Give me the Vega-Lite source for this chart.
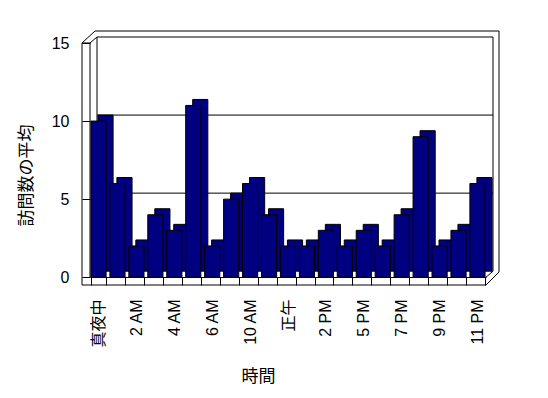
{
  "$schema": "https://vega.github.io/schema/vega-lite/v6.json",
  "width": 396,
  "height": 242,
  "autosize": {"type": "none"},
  "padding": {"left": 90, "top": 43, "right": 62, "bottom": 113},
  "background": "white",
  "config": {
    "view": {"stroke": null},
    "font": "Liberation Sans, Noto Sans CJK JP",
    "axis": {"labelColor": "black", "titleColor": "black", "tickColor": "black", "domainColor": "black", "titleFontWeight": "normal", "labelFont": "Liberation Sans, Noto Sans CJK JP", "titleFont": "Liberation Sans, Noto Sans CJK JP"}
  },
  "data": {"values": [
    {"h": "真夜中", "v": 10}, {"h": "1 AM", "v": 6}, {"h": "2 AM", "v": 2}, {"h": "3 AM", "v": 4},
    {"h": "4 AM", "v": 3}, {"h": "5 AM", "v": 11}, {"h": "6 AM", "v": 2}, {"h": "8 AM", "v": 5},
    {"h": "10 AM", "v": 6}, {"h": "11 AM", "v": 4}, {"h": "正午", "v": 2}, {"h": "1 PM", "v": 2},
    {"h": "2 PM", "v": 3}, {"h": "3 PM", "v": 2}, {"h": "5 PM", "v": 3}, {"h": "6 PM", "v": 2},
    {"h": "7 PM", "v": 4}, {"h": "8 PM", "v": 9}, {"h": "9 PM", "v": 2}, {"h": "10 PM", "v": 3},
    {"h": "11 PM", "v": 6}
  ]},
  "resolve": {"scale": {"x": "independent"}, "axis": {"x": "independent", "y": "independent"}},
  "layer": [
    {
      "data": {"values": [{}]},
      "layer": [
        {"mark": {"type": "rule", "color": "black", "xOffset": 7, "x2Offset": 7, "yOffset": -6},
         "encoding": {"x": {"datum": 0, "type": "quantitative", "scale": {"domain": [0, 1], "nice": false, "zero": false}, "axis": null},
                      "x2": {"datum": 1},
                      "y": {"datum": 5, "type": "quantitative", "scale": {"domain": [-0.5, 15], "nice": false, "zero": false}, "axis": null}}},
        {"mark": {"type": "rule", "color": "black", "xOffset": 7, "x2Offset": 7, "yOffset": -6},
         "encoding": {"x": {"datum": 0, "type": "quantitative", "scale": {"domain": [0, 1], "nice": false, "zero": false}, "axis": null},
                      "x2": {"datum": 1},
                      "y": {"datum": 10, "type": "quantitative", "scale": {"domain": [-0.5, 15], "nice": false, "zero": false}, "axis": null}}},
        {"mark": {"type": "rule", "color": "black", "xOffset": 7, "x2Offset": 7, "yOffset": -6},
         "encoding": {"x": {"datum": 0, "type": "quantitative", "scale": {"domain": [0, 1], "nice": false, "zero": false}, "axis": null},
                      "x2": {"datum": 1},
                      "y": {"datum": 15, "type": "quantitative", "scale": {"domain": [-0.5, 15], "nice": false, "zero": false}, "axis": null}}},
        {"mark": {"type": "rule", "color": "black", "xOffset": 7, "yOffset": -6, "y2Offset": -6},
         "encoding": {"x": {"datum": 0, "type": "quantitative", "scale": {"domain": [0, 1], "nice": false, "zero": false}, "axis": null},
                      "y": {"datum": 0, "type": "quantitative", "scale": {"domain": [-0.5, 15], "nice": false, "zero": false}, "axis": null},
                      "y2": {"datum": 15}}},
        {"mark": {"type": "rule", "color": "black", "xOffset": 7, "yOffset": -6, "y2Offset": -6},
         "encoding": {"x": {"datum": 1, "type": "quantitative", "scale": {"domain": [0, 1], "nice": false, "zero": false}, "axis": null},
                      "y": {"datum": 0, "type": "quantitative", "scale": {"domain": [-0.5, 15], "nice": false, "zero": false}, "axis": null},
                      "y2": {"datum": 15}}},
        {"mark": {"type": "rule", "color": "black", "xOffset": 13, "yOffset": -12, "y2Offset": -13},
         "encoding": {"x": {"datum": 1, "type": "quantitative", "scale": {"domain": [0, 1], "nice": false, "zero": false}, "axis": null},
                      "y": {"datum": 15, "type": "quantitative", "scale": {"domain": [-0.5, 15], "nice": false, "zero": false}, "axis": null},
                      "y2": {"datum": -0.5}}},
        {"mark": {"type": "rule", "color": "black", "xOffset": 5, "x2Offset": 13, "yOffset": -12},
         "encoding": {"x": {"datum": 0, "type": "quantitative", "scale": {"domain": [0, 1], "nice": false, "zero": false}, "axis": null},
                      "x2": {"datum": 1},
                      "y": {"datum": 15, "type": "quantitative", "scale": {"domain": [-0.5, 15], "nice": false, "zero": false}, "axis": null}}},
        {"mark": {"type": "rule", "color": "black", "xOffset": -8},
         "encoding": {"x": {"datum": 0, "type": "quantitative", "scale": {"domain": [0, 1], "nice": false, "zero": false}, "axis": null},
                      "y": {"datum": -0.5, "type": "quantitative", "scale": {"domain": [-0.5, 15], "nice": false, "zero": false}, "axis": null},
                      "y2": {"datum": 15}}},
        {"mark": {"type": "rule", "color": "black"},
         "encoding": {"x": {"datum": 0, "type": "quantitative", "scale": {"domain": [0, 1], "nice": false, "zero": false}, "axis": null},
                      "y": {"datum": 0, "type": "quantitative", "scale": {"domain": [-0.5, 15], "nice": false, "zero": false}, "axis": null},
                      "y2": {"datum": 15}}},
        {"mark": {"type": "rule", "color": "black", "xOffset": -8},
         "encoding": {"x": {"datum": 0, "type": "quantitative", "scale": {"domain": [0, 1], "nice": false, "zero": false}, "axis": null},
                      "x2": {"datum": 0},
                      "y": {"datum": 15, "type": "quantitative", "scale": {"domain": [-0.5, 15], "nice": false, "zero": false}, "axis": null}}},
        {"mark": {"type": "rule", "color": "black", "xOffset": -8, "x2Offset": 5, "y2Offset": -12},
         "encoding": {"x": {"datum": 0, "type": "quantitative", "scale": {"domain": [0, 1], "nice": false, "zero": false}, "axis": null},
                      "x2": {"datum": 0},
                      "y": {"datum": 15, "type": "quantitative", "scale": {"domain": [-0.5, 15], "nice": false, "zero": false}, "axis": null},
                      "y2": {"datum": 15}}},
        {"mark": {"type": "rule", "color": "black", "x2Offset": 7, "y2Offset": -6},
         "encoding": {"x": {"datum": 0, "type": "quantitative", "scale": {"domain": [0, 1], "nice": false, "zero": false}, "axis": null},
                      "x2": {"datum": 0},
                      "y": {"datum": 15, "type": "quantitative", "scale": {"domain": [-0.5, 15], "nice": false, "zero": false}, "axis": null},
                      "y2": {"datum": 15}}},
        {"mark": {"type": "rule", "color": "black", "xOffset": -8},
         "encoding": {"x": {"datum": 0, "type": "quantitative", "scale": {"domain": [0, 1], "nice": false, "zero": false}, "axis": null},
                      "x2": {"datum": 1},
                      "y": {"datum": -0.5, "type": "quantitative", "scale": {"domain": [-0.5, 15], "nice": false, "zero": false}, "axis": null}}},
        {"mark": {"type": "rule", "color": "black", "x2Offset": 13, "y2Offset": -13},
         "encoding": {"x": {"datum": 1, "type": "quantitative", "scale": {"domain": [0, 1], "nice": false, "zero": false}, "axis": null},
                      "x2": {"datum": 1},
                      "y": {"datum": -0.5, "type": "quantitative", "scale": {"domain": [-0.5, 15], "nice": false, "zero": false}, "axis": null},
                      "y2": {"datum": -0.5}}},
        {"mark": {"type": "rule", "color": "black", "x2Offset": 7, "y2Offset": -6},
         "encoding": {"x": {"datum": 1, "type": "quantitative", "scale": {"domain": [0, 1], "nice": false, "zero": false}, "axis": null},
                      "x2": {"datum": 1},
                      "y": {"datum": 0, "type": "quantitative", "scale": {"domain": [-0.5, 15], "nice": false, "zero": false}, "axis": null},
                      "y2": {"datum": 0}}}
      ]
    },
    {
      "encoding": {
        "x": {"field": "h", "type": "nominal", "sort": null,
              "scale": {"paddingInner": 0.2, "paddingOuter": 0.05},
              "axis": {"title": "時間", "labelAngle": 270, "labelOverlap": false,
                       "labelExpr": "indexof(['真夜中','2 AM','4 AM','6 AM','10 AM','正午','2 PM','5 PM','7 PM','9 PM','11 PM'], datum.value) >= 0 ? datum.value : ''",
                       "offset": -8, "tickBand": "extent", "tickSize": 8, "labelPadding": 14,
                       "labelFontSize": 16, "titleFontSize": 17, "titleX": 168, "titleY": 99, "titleBaseline": "middle"}},
        "y": {"field": "v", "type": "quantitative",
              "scale": {"domain": [-0.5, 15], "nice": false, "zero": false},
              "axis": {"title": "訪問数の平均", "values": [0, 5, 10, 15], "domain": false, "grid": false,
                       "tickSize": 8, "labelPadding": 13, "labelFontSize": 16, "labelFlush": false,
                       "titleFontSize": 17, "titlePadding": 16, "titleY": 132}},
        "y2": {"datum": 0}
      },
      "layer": [
        {"mark": {"type": "bar", "fill": "#000080", "stroke": "black", "strokeWidth": 1, "xOffset": 7, "yOffset": -6, "y2Offset": -6}},
        {"mark": {"type": "bar", "fill": "#000080", "stroke": "black", "strokeWidth": 1}}
      ]
    }
  ]
}
